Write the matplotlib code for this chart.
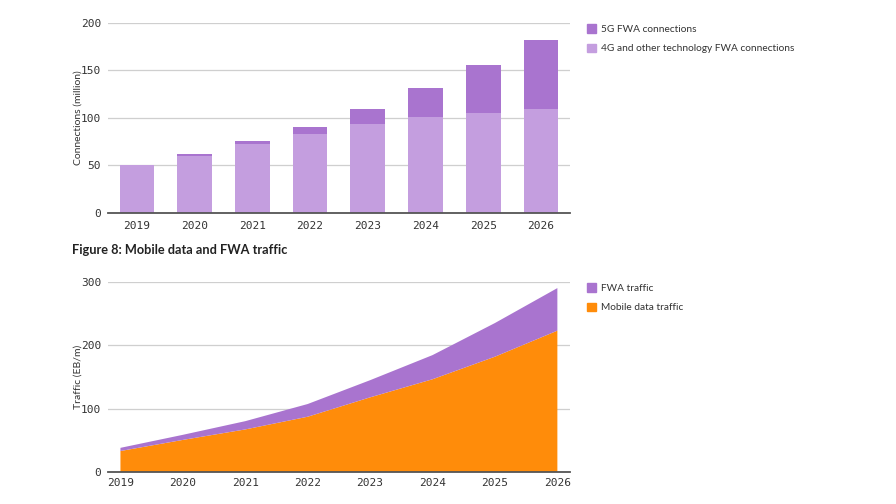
import matplotlib
matplotlib.use("Agg")
import matplotlib.pyplot as plt
from matplotlib.patches import Patch

# data
years = ["2019", "2020", "2021", "2022", "2023", "2024", "2025", "2026"]
fwa_4g = [50, 60, 72, 83.5, 93, 101, 105, 109.5]   # 4G and other technology FWA connections
fwa_5g = [0, 2, 4, 7, 16, 30, 50, 72]              # 5G FWA connections

traffic_years = [2019, 2020, 2021, 2022, 2023, 2024, 2025, 2026]
mobile_traffic = [33.5, 51, 67.5, 87.5, 118, 146.5, 182, 223]
fwa_traffic = [5, 8, 13, 20, 27, 38, 53, 67]

c_5g = "#A974CF"
c_4g = "#C49EDF"
c_orange = "#FF8C0A"
grid_c = "#CFCFCF"
txt_c = "#333333"

plt.rcParams['font.family'] = ['Lato', 'DejaVu Sans']

fig = plt.figure(figsize=(8.96, 5.04), dpi=100)


def style_axis(ax):
    for s in ["top", "right", "left"]:
        ax.spines[s].set_visible(False)
    ax.spines["bottom"].set_color("#555555")
    ax.spines["bottom"].set_linewidth(1.3)
    ax.grid(axis="y", color=grid_c, linewidth=0.9)
    ax.set_axisbelow(True)
    ax.tick_params(length=0, labelsize=8, colors=txt_c)
    for lab in ax.get_xticklabels() + ax.get_yticklabels():
        lab.set_family("DejaVu Sans Mono")


def add_legend(ax, handles):
    ax.legend(handles=handles, loc="upper left", bbox_to_anchor=(1.017, 1.04), frameon=False,
              fontsize=7.3, handlelength=0.9, handleheight=0.9, handletextpad=0.5,
              labelspacing=0.95, labelcolor=txt_c)


############################################################################################
# top: FWA connections (stacked bars)
ax1 = fig.add_axes([0.1205, 0.5774, 0.5155, 0.3776])
x = range(len(years))
ax1.bar(x, fwa_4g, width=0.6, color=c_4g, zorder=2)
ax1.bar(x, fwa_5g, width=0.6, bottom=fwa_4g, color=c_5g, zorder=2)
ax1.set_xlim(-0.5, 7.5)
ax1.set_ylim(0, 200)
ax1.set_yticks([0, 50, 100, 150, 200])
ax1.set_xticks(list(x))
ax1.set_xticklabels(years)
ax1.set_ylabel("Connections (million)", fontsize=7.5, color=txt_c, labelpad=-1)
ax1.tick_params(axis="x", pad=6)
ax1.tick_params(axis="y", pad=5)
style_axis(ax1)

add_legend(ax1, [Patch(color=c_5g, label="5G FWA connections"),
                 Patch(color=c_4g, label="4G and other technology FWA connections")])

fig.text(0.08, 0.503, "Figure 8: Mobile data and FWA traffic", fontsize=9.2,
         fontweight="bold", color="#222222", va="center")

############################################################################################
# bottom: traffic (stacked area)
ax2 = fig.add_axes([0.1205, 0.0629, 0.5155, 0.3781])
ax2.stackplot(traffic_years, mobile_traffic, fwa_traffic, colors=[c_orange, c_5g],
              linewidth=0, zorder=2)
ax2.set_xlim(2018.8, 2026.2)
ax2.set_ylim(0, 300)
ax2.set_yticks([0, 100, 200, 300])
ax2.set_xticks(traffic_years)
ax2.set_ylabel("Traffic (EB/m)", fontsize=7.5, color=txt_c, labelpad=-1)
ax2.tick_params(axis="x", pad=4)
ax2.tick_params(axis="y", pad=5)
style_axis(ax2)

add_legend(ax2, [Patch(color=c_5g, label="FWA traffic"),
                 Patch(color=c_orange, label="Mobile data traffic")])

fig.savefig("out.png", dpi=100, facecolor="white")
